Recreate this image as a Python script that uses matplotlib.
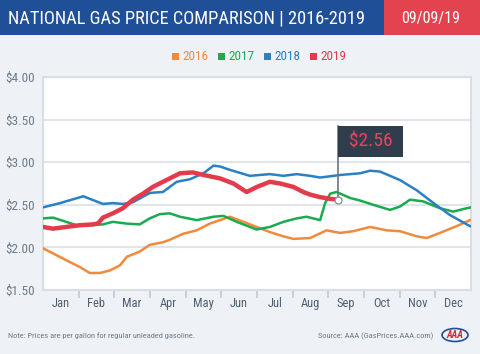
import matplotlib
matplotlib.use("Agg")
import matplotlib.pyplot as plt
from matplotlib.patches import Rectangle, Ellipse
from matplotlib import font_manager

names = {f.name for f in font_manager.fontManager.ttflist}
cands = ['Liberation Sans Narrow', 'DejaVu Sans Condensed', 'Roboto Condensed', 'Roboto']
fam = [c for c in cands if c in names][:1] + ['DejaVu Sans']
condensed = fam[0] in ('Liberation Sans Narrow', 'DejaVu Sans Condensed', 'Roboto Condensed')
plt.rcParams['font.family'] = fam
k = 1.0 if condensed else 0.85

# ---- data (x = position in months, 0 = Jan 1) ----
months = ["Jan", "Feb", "Mar", "Apr", "May", "Jun", "Jul", "Aug", "Sep", "Oct", "Nov", "Dec"]
y_ticks = [1.5, 2.0, 2.5, 3.0, 3.5, 4.0]
y_tick_labels = ["$1.50", "$2.00", "$2.50", "$3.00", "$3.50", "$4.00"]

x_2016 = [0.0, 0.28, 0.65, 1.03, 1.31, 1.6, 1.88, 2.16, 2.35, 2.71, 2.99, 3.36, 3.56, 3.93, 4.31,
          4.68, 4.96, 5.24, 5.62, 5.99, 6.36, 6.74, 7.02, 7.49, 7.95, 8.33, 8.7, 9.17, 9.64,
          10.01, 10.48, 10.76, 11.13, 11.6, 11.97]
p_2016 = [1.99, 1.93, 1.85, 1.77, 1.70, 1.70, 1.73, 1.79, 1.89, 1.95, 2.03, 2.06, 2.09, 2.16, 2.20,
          2.28, 2.32, 2.36, 2.30, 2.24, 2.18, 2.13, 2.10, 2.11, 2.20, 2.17, 2.19, 2.24, 2.20,
          2.19, 2.13, 2.11, 2.17, 2.25, 2.32]

x_2017 = [0.0, 0.28, 0.65, 0.94, 1.3, 1.68, 1.96, 2.33, 2.71, 2.99, 3.27, 3.55, 3.84, 4.31, 4.78,
          5.06, 5.43, 5.99, 6.36, 6.74, 7.11, 7.39, 7.77, 7.91, 8.05, 8.23, 8.61, 8.89, 9.26,
          9.73, 10.01, 10.29, 10.66, 11.13, 11.5, 11.88, 12.0]
p_2017 = [2.34, 2.35, 2.30, 2.26, 2.26, 2.27, 2.30, 2.28, 2.27, 2.34, 2.39, 2.40, 2.36, 2.32, 2.36,
          2.37, 2.30, 2.21, 2.24, 2.30, 2.34, 2.36, 2.32, 2.52, 2.63, 2.65, 2.58, 2.55, 2.50,
          2.44, 2.48, 2.56, 2.54, 2.46, 2.42, 2.46, 2.47]

x_2018 = [0.0, 0.48, 1.13, 1.68, 1.96, 2.24, 2.52, 3.0, 3.36, 3.75, 4.12, 4.5, 4.78, 4.96, 5.24,
          5.8, 6.36, 6.74, 7.11, 7.49, 7.77, 8.33, 8.89, 9.17, 9.45, 10.01, 10.48, 10.95,
          11.41, 11.97]
p_2018 = [2.47, 2.52, 2.60, 2.51, 2.52, 2.51, 2.53, 2.64, 2.65, 2.77, 2.80, 2.87, 2.96, 2.95, 2.91,
          2.84, 2.86, 2.84, 2.86, 2.84, 2.82, 2.85, 2.87, 2.90, 2.89, 2.79, 2.67, 2.52,
          2.38, 2.25]

x_2019 = [0.0, 0.28, 0.65, 1.03, 1.4, 1.54, 1.68, 1.96, 2.24, 2.52, 2.8, 3.08, 3.46, 3.84, 4.2,
          4.5, 4.96, 5.34, 5.71, 6.0, 6.36, 6.65, 7.02, 7.3, 7.49, 7.77, 8.05, 8.27]
p_2019 = [2.24, 2.22, 2.24, 2.26, 2.27, 2.28, 2.35, 2.40, 2.46, 2.56, 2.63, 2.71, 2.79, 2.87, 2.88,
          2.85, 2.81, 2.75, 2.65, 2.71, 2.77, 2.75, 2.71, 2.65, 2.62, 2.59, 2.57, 2.56]

current_label = "$2.56"
date_label = "09/09/19"
title = "NATIONAL GAS PRICE COMPARISON | 2016-2019"

c16, c17, c18, c19 = "#f08a3c", "#1aab4f", "#2b80c3", "#e23b4c"
bg = "#eef2f7"
navy = "#1f4f97"

fig = plt.figure(figsize=(4.8, 3.54), dpi=100)
fig.patch.set_facecolor(bg)

# header band
fig.patches.append(Rectangle((0, 1 - 35 / 354), 1, 35 / 354, transform=fig.transFigure,
                             facecolor=navy, edgecolor="none", zorder=0))
fig.patches.append(Rectangle((384 / 480, 1 - 35 / 354), 96 / 480, 35 / 354, transform=fig.transFigure,
                             facecolor="#e3434f", edgecolor="none", zorder=1))
fig.text(8 / 480, 1 - 18 / 354, title, color="white", fontsize=13.2 * k,
         va="center", ha="left")
fig.text(431 / 480, 1 - 18 / 354, date_label, color="white", fontsize=11.5 * k,
         va="center", ha="center")

# legend
leg_items = [("2016", c16, 172), ("2017", c17, 218), ("2018", c18, 264), ("2019", c19, 310)]
for lab, col, px in leg_items:
    fig.patches.append(Rectangle((px / 480, 1 - 60 / 354), 7 / 480, 7 / 354, transform=fig.transFigure,
                                 facecolor=col, edgecolor="none"))
    fig.text((px + 10) / 480, 1 - 56 / 354, lab, color=col, fontsize=9.5 * k, va="center", ha="left")

ax = fig.add_axes([43 / 480, 64 / 354, 428 / 480, 213 / 354])
ax.set_facecolor("white")
ax.set_xlim(0, 12)
ax.set_ylim(1.5, 4.0)

for s in ax.spines.values():
    s.set_color("#d9dee5")
    s.set_linewidth(1.5)

ax.set_yticks(y_ticks)
ax.set_yticklabels(y_tick_labels)
ax.tick_params(axis="y", length=0, labelsize=9.5 * k, labelcolor="#6d7b8a", pad=6)
ax.grid(axis="y", color="#e1e5ea", linewidth=1.5)
ax.set_axisbelow(True)

ax.set_xticks(range(1, 12))
ax.set_xticklabels([])
ax.tick_params(axis="x", which="major", length=6, width=1.2, color="#c3cad3")
ax.set_xticks([i + 0.5 for i in range(12)], minor=True)
ax.set_xticklabels(months, minor=True)
ax.tick_params(axis="x", which="minor", length=0, labelsize=9 * k, labelcolor="#4e5f72", pad=5)

ax.plot(x_2016, p_2016, color=c16, lw=1.8, zorder=3)
ax.plot(x_2017, p_2017, color=c17, lw=1.8, zorder=3)
ax.plot(x_2018, p_2018, color=c18, lw=1.8, zorder=3)
ax.plot(x_2019, p_2019, color=c19, lw=3.2, zorder=4, solid_capstyle="round")

# marker + flag annotation at last 2019 point
xe, ye = x_2019[-1], p_2019[-1]
flag_bottom, flag_top, flag_w = 3.06, 3.42, 1.82
ax.plot([xe, xe], [ye, flag_top], color="#6b7682", lw=1.2, zorder=5)
ax.add_patch(Rectangle((xe, flag_bottom), flag_w, flag_top - flag_bottom,
                       facecolor="#2f3d4c", edgecolor="none", zorder=6))
ax.text(xe + flag_w / 2, (flag_bottom + flag_top) / 2, current_label, ha="center", va="center",
        fontsize=14 * k, color="#e8455a", zorder=7)
ax.plot([xe], [ye], marker="o", ms=5, mfc="white", mec="#8a939c", mew=1, zorder=8)

# footer
fig.text(8 / 480, 1 - 336 / 354, "Note: Prices are per gallon for regular unleaded gasoline.",
         color="#6d7b8a", fontsize=6, va="center", ha="left")
fig.text(433 / 480, 1 - 336 / 354, "Source: AAA (GasPrices.AAA.com)",
         color="#6d7b8a", fontsize=6, va="center", ha="right")
fig.patches.append(Ellipse((455 / 480, 1 - 335 / 354), 26 / 480, 13 / 354, transform=fig.transFigure,
                           facecolor="none", edgecolor="#1f4f97", linewidth=1.2))
fig.text(455 / 480, 1 - 335 / 354, "AAA", color="#d8262f", fontsize=7, fontweight="bold",
         fontstyle="italic", va="center", ha="center")

fig.savefig("out.png", dpi=100, facecolor=fig.get_facecolor())
